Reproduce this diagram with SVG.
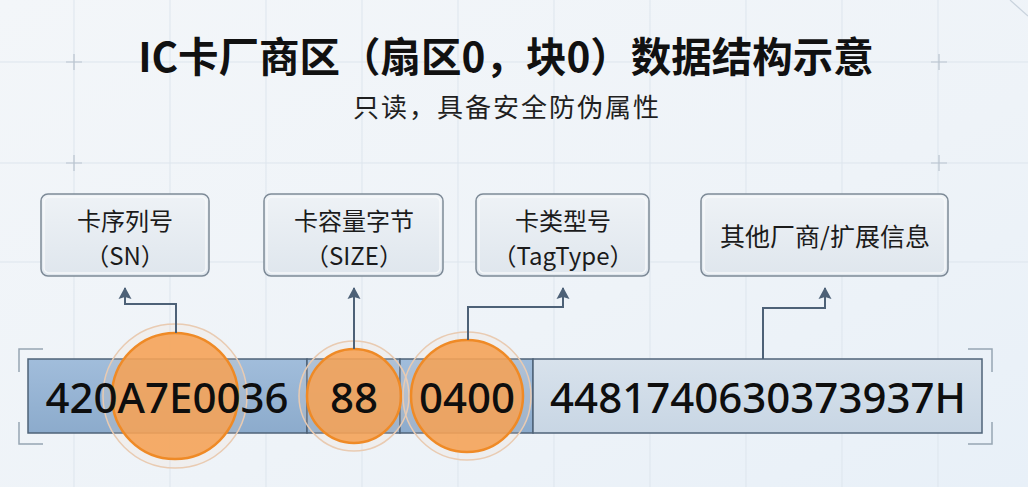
<svg xmlns="http://www.w3.org/2000/svg" width="1028" height="487" viewBox="0 0 1028 487">
  <defs>
    <linearGradient id="bg" x1="0" y1="0" x2="1" y2="1">
      <stop offset="0" stop-color="#f3f6f9"/>
      <stop offset="0.6" stop-color="#eef3f8"/>
      <stop offset="1" stop-color="#e8f0f8"/>
    </linearGradient>
    <linearGradient id="boxFill" x1="0" y1="0" x2="0" y2="1">
      <stop offset="0" stop-color="#eef2f6"/>
      <stop offset="1" stop-color="#dfe6ed"/>
    </linearGradient>
    <linearGradient id="segDark" x1="0" y1="0" x2="0" y2="1">
      <stop offset="0" stop-color="#a1bddb"/>
      <stop offset="1" stop-color="#8cabcc"/>
    </linearGradient>
    <linearGradient id="segLight" x1="0" y1="0" x2="0" y2="1">
      <stop offset="0" stop-color="#d8e2ec"/>
      <stop offset="1" stop-color="#c8d6e4"/>
    </linearGradient>
    <marker id="arr" viewBox="0 0 14 13" refX="7" refY="1" markerWidth="14" markerHeight="13" markerUnits="userSpaceOnUse" orient="0">
      <path d="M7 0 L13.5 12 L7 10 L0.5 12 Z" fill="#4d6177"/>
    </marker>
    <style>
      .grid { stroke: #dde5ed; stroke-width: 1; }
      .plus { stroke: #b9c4cf; stroke-width: 1.2; }
      .box { fill: url(#boxFill); stroke: #7d8a97; stroke-width: 1.5; }
      .boxin { fill: none; stroke: #f7f9fb; stroke-width: 1.5; opacity: 0.9; }
      .lbl { font-family: "Noto Sans CJK SC", "Noto Sans", sans-serif; font-size: 24px; fill: #1b1b1b; text-anchor: middle; }
      .lbl1 { font-family: "Noto Sans CJK SC", "Noto Sans", sans-serif; font-size: 25px; fill: #1b1b1b; text-anchor: middle; }
      .seg { stroke: #4f6378; stroke-width: 1.5; }
      .val { font-family: "Noto Sans", "Liberation Sans", sans-serif; font-size: 42px; font-weight: 500; fill: #0e0e0e; text-anchor: middle; }
      .halo { fill: #f6d9c0; fill-opacity: 0.18; stroke: #e9cbb2; stroke-width: 1.5; }
      .dot { fill: #f5a255; fill-opacity: 0.88; stroke: #ef8a26; stroke-width: 2.5; }
      .conn { fill: none; stroke: #4d6177; stroke-width: 2; }
      .brk { fill: none; stroke: #97a5b3; stroke-width: 1.5; }
    </style>
  </defs>

  <rect width="1028" height="487" fill="url(#bg)"/>
  <g id="background-grid">
    <path class="grid" d="M74 0V487M170 0V487M266 0V487M362 0V487M458 0V487M554 0V487M650 0V487M746 0V487M842 0V487M938 0V487"/>
    <path class="grid" d="M0 62H1028M0 163H1028M0 262H1028"/>
    <path class="plus" d="M66 62H82M74 54V70M66 163H82M74 155V171M931 62H947M939 54V70M931 163H947M939 155V171"/>
    <path d="M1010 0 L1028 16" stroke="#c9d3dd" stroke-width="1.2"/>
  </g>

  <g id="title">
    <text x="506" y="72" text-anchor="middle" font-family="Noto Sans CJK SC, Noto Sans, sans-serif" font-size="40.5" font-weight="bold" fill="#111">IC卡厂商区（扇区0，块0）数据结构示意</text>
    <text x="507" y="117" text-anchor="middle" font-family="Noto Sans CJK SC, Noto Sans, sans-serif" font-size="26" letter-spacing="2" fill="#1f1f1f">只读，具备安全防伪属性</text>
  </g>

  <g id="node-sn-label">
    <rect class="box" x="41" y="194" width="168" height="82" rx="7"/>
    <rect class="boxin" x="44" y="197" width="162" height="76" rx="5"/>
    <text class="lbl"><tspan x="125" y="229.5">卡序列号</tspan><tspan x="125" y="264.5">（SN）</tspan></text>
  </g>
  <g id="node-size-label">
    <rect class="box" x="264" y="194" width="179" height="82" rx="7"/>
    <rect class="boxin" x="267" y="197" width="173" height="76" rx="5"/>
    <text class="lbl"><tspan x="354" y="229.5">卡容量字节</tspan><tspan x="354" y="264.5">（SIZE）</tspan></text>
  </g>
  <g id="node-tagtype-label">
    <rect class="box" x="476" y="194" width="173" height="82" rx="7"/>
    <rect class="boxin" x="479" y="197" width="167" height="76" rx="5"/>
    <text class="lbl"><tspan x="563" y="229.5">卡类型号</tspan><tspan x="563" y="264.5">（TagType）</tspan></text>
  </g>
  <g id="node-other-label">
    <rect class="box" x="701" y="194" width="247" height="82" rx="7"/>
    <rect class="boxin" x="704" y="197" width="241" height="76" rx="5"/>
    <text class="lbl1" x="825" y="246">其他厂商/扩展信息</text>
  </g>

  <g id="brackets">
    <path class="brk" d="M43 349H19V372M19 422V444H43"/>
    <path class="brk" d="M968 349H992V372M992 422V444H968"/>
  </g>

  <g id="data-bar">
    <g id="seg-sn">
      <rect class="seg" x="28" y="359" width="279" height="74" fill="url(#segDark)"/>
    </g>
    <g id="seg-size">
      <rect class="seg" x="307" y="359" width="93" height="74" fill="url(#segDark)"/>
    </g>
    <g id="seg-tagtype">
      <rect class="seg" x="400" y="359" width="133" height="74" fill="url(#segDark)"/>
    </g>
    <g id="seg-other">
      <rect class="seg" x="533" y="359" width="449" height="74" fill="url(#segLight)"/>
    </g>
  </g>

  <g id="highlights">
    <circle class="halo" cx="175" cy="396" r="72"/>
    <circle class="dot" cx="175" cy="396" r="63"/>
    <circle class="halo" cx="354" cy="396" r="55"/>
    <circle class="dot" cx="354" cy="396" r="47"/>
    <circle class="halo" cx="467" cy="396" r="64"/>
    <circle class="dot" cx="467" cy="396" r="56"/>
  </g>

  <g id="values">
    <text class="val" x="167" y="413">420A7E0036</text>
    <text class="val" x="354" y="413">88</text>
    <text class="val" x="467" y="413">0400</text>
    <text class="val" x="758" y="413">4481740630373937H</text>
  </g>

  <g id="connectors">
    <path class="conn" d="M176 333V304H125V288" marker-end="url(#arr)"/>
    <path class="conn" d="M354 349V288" marker-end="url(#arr)"/>
    <path class="conn" d="M468 340V307H563V288" marker-end="url(#arr)"/>
    <path class="conn" d="M763 359V308H825V288" marker-end="url(#arr)"/>
  </g>
</svg>
